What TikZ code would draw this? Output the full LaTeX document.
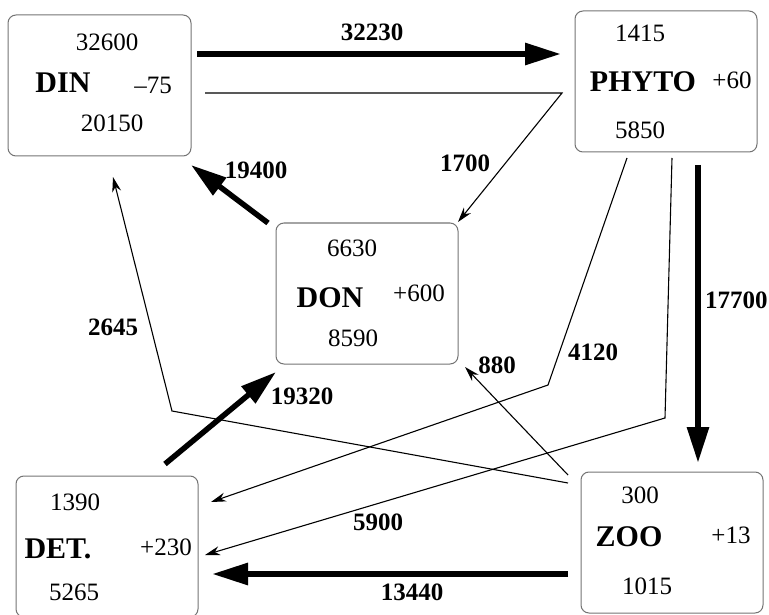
\documentclass[tikz,border=0pt]{standalone}
\usepackage{fontspec}
\setmainfont{Liberation Serif}
\usetikzlibrary{arrows.meta}
\begin{document}
\begin{tikzpicture}[x=1pt,y=-1pt,
  box/.style={draw=black!55, line width=1pt, rounded corners=8pt, minimum width=182pt, minimum height=141pt, inner sep=0pt},
  num/.style={inner sep=0pt, font=\fontsize{25}{30}\selectfont},
  cname/.style={inner sep=0pt, font=\fontsize{30}{36}\selectfont\bfseries},
  flow/.style={inner sep=0pt, font=\fontsize{25}{30}\selectfont\bfseries},
  thinflow/.style={line width=1.1pt, line join=miter, -{Stealth[length=15pt,width=9pt]}},
  thickflow/.style={line width=6pt, -{Triangle[length=36pt,width=21pt]}},
]
\useasboundingbox (0,0) rectangle (769,615);
% boxes
\node[box, minimum width=183pt] (din) at (99.5,85.5) {};
\node[box] (phyto) at (666,81.5) {};
\node[box] (don) at (367,293.5) {};
\node[box] (det) at (107,546.5) {};
\node[box] (zoo) at (672,542.5) {};
% box texts
\node[num] (din1) at (107,42) {32600};
\node[cname] (dinn) at (63,83) {DIN};
\node[num] (din2) at (153,85) {–75};
\node[num] (din3) at (112,123) {20150};
\node[num] (ph1) at (640,33) {1415};
\node[cname] (phn) at (643,82) {PHYTO};
\node[num] (ph2) at (732,80) {+60};
\node[num] (ph3) at (640,130) {5850};
\node[num] (don1) at (352,248) {6630};
\node[cname] (donn) at (330,298) {DON};
\node[num] (don2) at (419,293) {+600};
\node[num] (don3) at (353,338) {8590};
\node[num] (det1) at (75,502) {1390};
\node[cname] (detn) at (58,549) {DET.};
\node[num] (det2) at (166,547) {+230};
\node[num] (det3) at (74,592) {5265};
\node[num] (zoo1) at (640,495) {300};
\node[cname] (zoon) at (629,537) {ZOO};
\node[num] (zoo2) at (731,535) {+13};
\node[num] (zoo3) at (647,586) {1015};
% connector end points
\coordinate (a1s) at (197,54);   \coordinate (a1e) at (561,54);
\coordinate (b1s) at (205,93);   \coordinate (b1m) at (562,93);   \coordinate (b1e) at (458,222);
\coordinate (c1s) at (268,223);  \coordinate (c1e) at (191,165);
\coordinate (d1s) at (568,483);  \coordinate (d1m) at (172,411);  \coordinate (d1e) at (113,177);
\coordinate (e1s) at (698,165);  \coordinate (e1e) at (698,463);
\coordinate (f1s) at (627,158);  \coordinate (f1m) at (548,385);  \coordinate (f1e) at (211,502);
\coordinate (g1s) at (672,158);  \coordinate (g1m) at (665,418);  \coordinate (g1e) at (205,555);
\coordinate (h1s) at (568,475);  \coordinate (h1e) at (465,367);
\coordinate (i1s) at (165,464);  \coordinate (i1e) at (276,372);
\coordinate (j1s) at (568,574);  \coordinate (j1e) at (212,574);
% thin flows
\draw[thinflow] (b1s) -- (b1m) -- (b1e);
\draw[thinflow] (d1s) -- (d1m) -- (d1e);
\draw[thinflow] (f1s) -- (f1m) -- (f1e);
\draw[thinflow] (g1s) -- (g1m) -- (g1e);
\draw[thinflow] (h1s) -- (h1e);
% thick flows
\draw[thickflow] (a1s) -- (a1e);
\draw[thickflow, line width=5.5pt] (c1s) -- (c1e);
\draw[thickflow] (e1s) -- (e1e);
\draw[thickflow, line width=5.5pt] (i1s) -- (i1e);
\draw[thickflow] (j1s) -- (j1e);
% flow labels
\node[flow] (l32230) at (372,32) {32230};
\node[flow] (l1700) at (465,163) {1700};
\node[flow] (l19400) at (256,170) {19400};
\node[flow] (l2645) at (113,327) {2645};
\node[flow, anchor=west] (l17700) at (705,300) {17700};
\node[flow] (l4120) at (593,352) {4120};
\node[flow] (l880) at (497,365) {880};
\node[flow] (l19320) at (302,396) {19320};
\node[flow] (l5900) at (378,522) {5900};
\node[flow] (l13440) at (412,592) {13440};
\end{tikzpicture}
\end{document}
